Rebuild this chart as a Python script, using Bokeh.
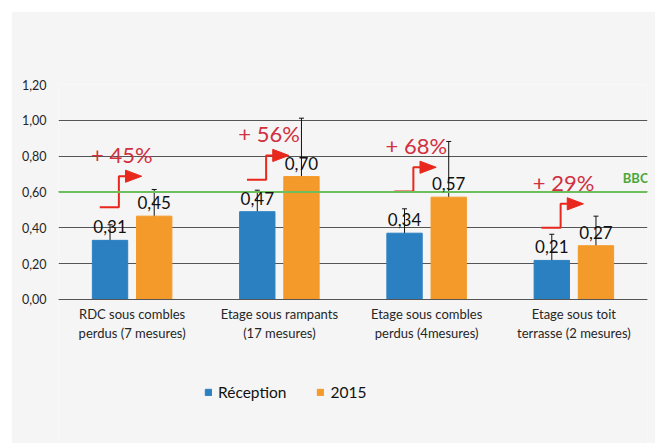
from bokeh.plotting import figure
from bokeh.layouts import column, row
from bokeh.models import (ColumnDataSource, Range1d, FixedTicker, Whisker, TeeHead,
                          Span, Label, LabelSet, Legend, LegendItem, Spacer)
from bokeh.core.properties import value
from bokeh.embed import file_html
from bokeh.resources import INLINE

# ---------------- data ----------------
categories = ["RDC sous combles\nperdus (7 mesures)",
              "Etage sous rampants\n(17 mesures)",
              "Etage sous combles\nperdus (4mesures)",
              "Etage sous toit\nterrasse (2 mesures)"]
reception = [0.33, 0.49, 0.37, 0.218]
y2015 = [0.465, 0.686, 0.571, 0.30]
reception_labels = ["0,31", "0,47", "0,34", "0,21"]
labels_2015 = ["0,45", "0,70", "0,57", "0,27"]
reception_low = [0.152, 0.307, 0.184, 0.069]
reception_high = [0.417, 0.61, 0.506, 0.364]
low_2015 = [0.288, 0.33, 0.236, 0.069]
high_2015 = [0.614, 1.012, 0.882, 0.465]
increase_labels = ["+ 45%", "+ 56%", "+ 68%", "+ 29%"]
arrow_base = [0.515, 0.668, 0.603, 0.40]
arrow_top = [0.688, 0.804, 0.738, 0.534]
bbc_level = 0.6
y_ticks = [0.0, 0.2, 0.4, 0.6, 0.8, 1.0, 1.2]
y_tick_labels = ["0,00", "0,20", "0,40", "0,60", "0,80", "1,00", "1,20"]

FONT = "Lato"
BLUE = "#2b80c1"
ORANGE = "#f49a2a"
RED = "#e8271d"
PCT = "#d0313f"

centers = [i + 0.5 for i in range(len(categories))]
off = 0.15
bw = 0.24
xb = [c - off for c in centers]
xo = [c + off for c in centers]

# frame extends below zero so that the category labels and legend sit inside it
p = figure(width=644, height=432, x_range=Range1d(0, 4), y_range=Range1d(-0.804, 1.2),
           output_backend="svg", toolbar_location=None,
           min_border_left=47, min_border_right=8, min_border_top=73, min_border_bottom=0)
p.background_fill_color = "#f5f5f5"
p.border_fill_color = "#f5f5f5"
p.outline_line_color = None

# grid
p.xgrid.visible = False
p.ygrid.ticker = FixedTicker(ticks=y_ticks)
p.ygrid.grid_line_color = "#555555"
p.ygrid.grid_line_width = 1.2

# axes
p.yaxis.ticker = FixedTicker(ticks=y_ticks)
p.yaxis.major_label_overrides = {t: l for t, l in zip(y_ticks, y_tick_labels)}
p.yaxis.axis_line_color = None
p.yaxis.major_tick_line_color = None
p.yaxis.minor_tick_line_color = None
p.yaxis.major_label_standoff = 6
p.yaxis.major_label_text_font = FONT
p.yaxis.major_label_text_font_size = "12.5px"
p.yaxis.major_label_text_color = "#262626"

p.xaxis.fixed_location = 0
p.xaxis.ticker = FixedTicker(ticks=centers)
p.xaxis.major_label_overrides = {c: l for c, l in zip(centers, categories)}
p.xaxis.axis_line_color = "#555555"
p.xaxis.major_tick_line_color = None
p.xaxis.minor_tick_line_color = None
p.xaxis.major_tick_out = 0
p.xaxis.major_tick_in = 0
p.xaxis.major_label_standoff = 7
p.xaxis.major_label_text_font = FONT
p.xaxis.major_label_text_font_size = "13px"
p.xaxis.major_label_text_color = "#262626"
p.xaxis.major_label_text_line_height = 1.15

# BBC line
p.add_layout(Span(location=bbc_level, dimension="width", line_color="#6cbf5c", line_width=2))
p.add_layout(Label(x=4.0, y=bbc_level, text="BBC", text_align="right", x_offset=1, y_offset=6,
                   text_font=FONT, text_font_style="bold", text_font_size="13px",
                   text_color="#4aa83b"))

# bars
rb = p.vbar(x=xb, top=reception, width=bw, color=BLUE)
ro = p.vbar(x=xo, top=y2015, width=bw, color=ORANGE)

# error bars
src_b = ColumnDataSource(dict(x=xb, lo=reception_low, hi=reception_high))
src_o = ColumnDataSource(dict(x=xo, lo=low_2015, hi=high_2015))
for s in (src_b, src_o):
    p.add_layout(Whisker(base="x", lower="lo", upper="hi", source=s, line_color="#111111",
                         line_width=1,
                         upper_head=TeeHead(size=5, line_color="#111111", line_width=1),
                         lower_head=TeeHead(size=5, line_color="#111111", line_width=1)))

# value labels
lab = ColumnDataSource(dict(x=xb + xo, y=reception + y2015, t=reception_labels + labels_2015))
p.add_layout(LabelSet(x="x", y="y", text="t", source=lab, y_offset=7, text_align="center",
                      text_baseline="alphabetic", text_font=value(FONT), text_font_size="17px",
                      text_color="#111111"))

# increase arrows
xs, ys, hx, hy = [], [], [], []
for c, b, t in zip(centers, arrow_base, arrow_top):
    xs.append([c - 0.22, c - 0.09, c - 0.09, c - 0.045])
    ys.append([b, b, t, t])
    hx.append([c - 0.045, c - 0.045, c + 0.065])
    hy.append([t - 0.034, t + 0.034, t])
p.multi_line(xs=xs, ys=ys, line_color=RED, line_width=2)
p.patches(xs=hx, ys=hy, fill_color=RED, line_color=RED, line_width=1)
pct = ColumnDataSource(dict(x=[c - 0.07 for c in centers], y=arrow_top, t=increase_labels))
p.add_layout(LabelSet(x="x", y="y", text="t", source=pct, y_offset=13, text_align="center",
                      text_baseline="alphabetic", text_font=value(FONT),
                      text_font_size="22px", text_color=PCT))

legend = Legend(items=[LegendItem(label="Réception", renderers=[rb]),
                       LegendItem(label="2015", renderers=[ro])],
                orientation="horizontal", location=(146, 42), padding=0, margin=0,
                spacing=30, label_standoff=6, glyph_width=8, glyph_height=8, label_height=16,
                label_text_font=FONT, label_text_font_size="15.5px", label_text_color="#111111",
                border_line_color=None, background_fill_alpha=0)
p.add_layout(legend)

layout = column(Spacer(height=11, width=655), row(Spacer(width=11, height=432), p))
open("out.html", "w").write(file_html(layout, INLINE))
